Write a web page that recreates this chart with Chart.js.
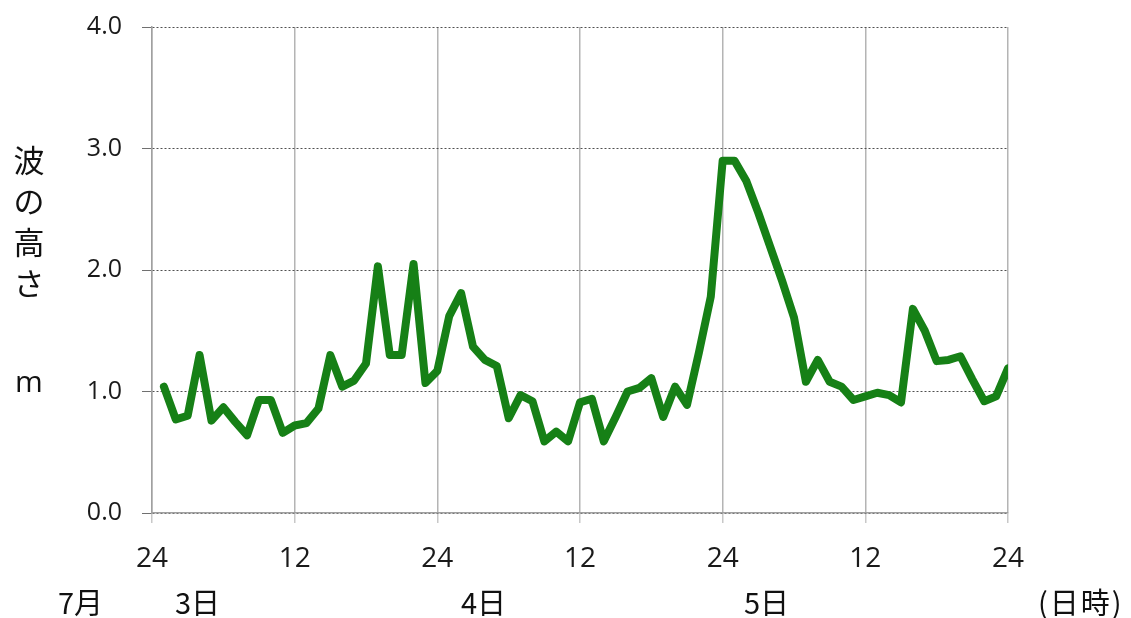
<!DOCTYPE html>
<html>
<head>
<meta charset="utf-8">
<script src="https://cdn.jsdelivr.net/npm/chart.js@4/dist/chart.umd.min.js"></script>
<style>
  body { margin: 0; background: #fff; }
  #wrap { position: relative; width: 1131px; height: 618px; }
  .lbl { position: absolute; font-family: "Noto Sans CJK JP", sans-serif; color: #111; white-space: nowrap; }
  .ytitle { font-size: 31px; left: 9px; width: 40px; text-align: center; line-height: 40px; }
  .bottom { font-size: 29px; top: 581px; line-height: 40px; }
</style>
</head>
<body>
<div id="wrap">
  <canvas id="waveChart" width="1131" height="618"></canvas>
  <div class="lbl ytitle" style="top:139px">波</div>
  <div class="lbl ytitle" style="top:180px">の</div>
  <div class="lbl ytitle" style="top:221px">高</div>
  <div class="lbl ytitle" style="top:262px">さ</div>
  <div class="lbl ytitle" style="top:361px; font-family:'Open Sans', sans-serif; font-size:30px">m</div>
  <div class="lbl bottom" style="left:58px">7月</div>
  <div class="lbl bottom" style="left:175px">3日</div>
  <div class="lbl bottom" style="left:461px">4日</div>
  <div class="lbl bottom" style="left:744px">5日</div>
  <div class="lbl bottom" style="left:1038px; letter-spacing:2px">(日時)</div>
</div>
<script>
// hours since 7/3 0:00
const hours = [
    1, 2, 3, 4, 5, 6, 7, 8, 9, 10, 11, 12,
    13, 14, 15, 16, 17, 18, 19, 20, 21, 22, 23, 24,
    25, 26, 27, 28, 29, 30, 31, 32, 33, 34, 35, 36,
    37, 38, 39, 40, 41, 42, 43, 44, 45, 46, 47, 48,
    49, 50, 51, 52, 53, 54, 55, 56, 57, 58, 59, 60,
    61, 62, 63, 64, 65, 66, 67, 68, 69, 70, 71, 72
];
// wave height (m)
const waveHeight = [
    1.04, 0.77, 0.80, 1.30, 0.76, 0.87, 0.75, 0.64, 0.93, 0.93, 0.66, 0.72,
    0.74, 0.86, 1.30, 1.04, 1.09, 1.23, 2.03, 1.30, 1.30, 2.05, 1.07, 1.17,
    1.62, 1.81, 1.37, 1.26, 1.21, 0.78, 0.97, 0.92, 0.59, 0.67, 0.59, 0.91,
    0.94, 0.59, 0.79, 1.00, 1.03, 1.11, 0.79, 1.04, 0.89, 1.32, 1.78, 2.90,
    2.90, 2.73, 2.47, 2.19, 1.91, 1.61, 1.08, 1.26, 1.08, 1.04, 0.93, 0.96,
    0.99, 0.97, 0.91, 1.68, 1.50, 1.25, 1.26, 1.29, 1.10, 0.92, 0.96, 1.19
];
const xTickLabels = ['24', '12', '24', '12', '24', '12', '24'];

var points = hours.map((h, i) => ({ x: h, y: waveHeight[i] }));

var ctx = document.getElementById('waveChart').getContext('2d');
var waveChart = new Chart(ctx, {
    type: 'line',
    data: {
        datasets: [{
            label: '波の高さ',
            data: points,
            borderColor: '#168016',
            borderWidth: 8,
            borderJoinStyle: 'round',
            borderCapStyle: 'round',
            pointRadius: 0,
            tension: 0,
            fill: false
        }]
    },
    options: {
        responsive: false,
        animation: false,
        layout: { padding: { left: 0, right: 123, top: 27, bottom: 0 } },
        plugins: {
            legend: { display: false },
            tooltip: { enabled: false }
        },
        scales: {
            x: {
                type: 'linear',
                min: 0,
                max: 72,
                afterFit: function(scale) {
                    scale.height = 105;
                    scale.paddingLeft = 0;
                    scale.paddingRight = 0;
                },
                afterBuildTicks: function(scale) {
                    scale.ticks = [0, 12, 24, 36, 48, 60, 72].map(v => ({ value: v }));
                },
                ticks: {
                    autoSkip: false,
                    maxRotation: 0,
                    padding: 19,
                    color: '#1a1a1a',
                    font: { family: "'Open Sans', sans-serif", size: 28 },
                    callback: function(v, i) { return xTickLabels[i]; }
                },
                grid: {
                    color: '#b4b4b4',
                    lineWidth: 1.5,
                    tickLength: 10,
                    tickColor: '#c8c8c8'
                },
                border: { color: '#a0a0a0', width: 1.5 }
            },
            y: {
                min: 0,
                max: 4,
                afterFit: function(scale) {
                    scale.width = 152;
                    scale.paddingTop = 0;
                    scale.paddingBottom = 0;
                },
                ticks: {
                    stepSize: 1,
                    padding: 20,
                    color: '#1a1a1a',
                    font: { family: "'Open Sans', sans-serif", size: 25 },
                    callback: function(v) { return v.toFixed(1); }
                },
                grid: {
                    color: '#505050',
                    lineWidth: 1,
                    tickLength: 10,
                    tickColor: '#707070'
                },
                border: { color: '#a0a0a0', width: 1.5, dash: [2, 2] }
            }
        }
    }
});
</script>
</body>
</html>
